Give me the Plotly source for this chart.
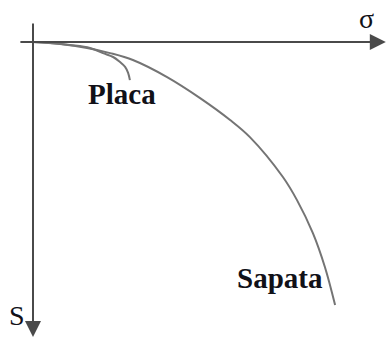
import plotly.graph_objects as go

# curves (sigma = load, s = settlement, arbitrary units)
sapata_sigma = [0, 9, 18, 25.7, 33.3, 44.7, 55.7, 65.7, 72.3, 83.3, 88, 93.3, 97.3, 100.7]
sapata_s = [0, 0.7, 2, 3.7, 6, 11.7, 18.7, 26, 31.7, 45, 52.7, 63.7, 75, 87.7]

placa_sigma = [0, 5.7, 12.3, 19, 23.3, 26.7, 29, 30.7, 31.7, 32.3]
placa_s = [0, 0.3, 1, 2, 3.7, 5, 6.7, 8.3, 10.3, 12.7]

axis_color = '#4a4a4a'
curve_color = '#747474'
text_color = '#111118'

fig = go.Figure()

# Sapata curve
fig.add_trace(go.Scatter(
    x=sapata_sigma, y=sapata_s,
    mode='lines', name='Sapata',
    line=dict(color=curve_color, width=2, shape='spline', smoothing=1.0),
    hoverinfo='skip'
))

# Placa curve
fig.add_trace(go.Scatter(
    x=placa_sigma, y=placa_s,
    mode='lines', name='Placa',
    line=dict(color=curve_color, width=2, shape='spline'),
    hoverinfo='skip'
))

# sigma axis (horizontal, arrow to the right)
fig.add_annotation(
    x=117.6, y=0, ax=-4.7, ay=0,
    xref='x', yref='y', axref='x', ayref='y',
    showarrow=True, arrowhead=2, arrowsize=1.6, arrowwidth=2,
    arrowcolor=axis_color, text=''
)

# settlement axis (vertical, arrow downwards)
fig.add_annotation(
    x=0, y=98.3, ax=0, ay=-6.7,
    xref='x', yref='y', axref='x', ayref='y',
    showarrow=True, arrowhead=2, arrowsize=1.6, arrowwidth=2,
    arrowcolor=axis_color, text=''
)

serif = 'Liberation Serif, Times New Roman, serif'

labels = [
    ('σ', 111, -7.8, False),
    ('S', -5.5, 91.2, False),
    ('Placa', 29.7, 17.2, True),
    ('Sapata', 82.3, 78.8, True),
]
for txt, lx, ly, bold in labels:
    fig.add_annotation(
        x=lx, y=ly, xref='x', yref='y',
        text='<b>{}</b>'.format(txt) if bold else txt,
        showarrow=False, xanchor='center', yanchor='middle',
        font=dict(family=serif, size=29 if bold else 28, color=text_color)
    )

fig.update_layout(
    width=387, height=343,
    margin=dict(l=0, r=0, t=0, b=0),
    paper_bgcolor='white', plot_bgcolor='white',
    showlegend=False,
    xaxis=dict(visible=False, range=[-11, 118], fixedrange=True),
    yaxis=dict(visible=False, range=[100.33, -14], fixedrange=True),
)

# drop the default 8px body margin so the figure fills the window
fig.write_html("out.html", config={'displayModeBar': False},
               post_script="document.body.style.margin = '0';")
